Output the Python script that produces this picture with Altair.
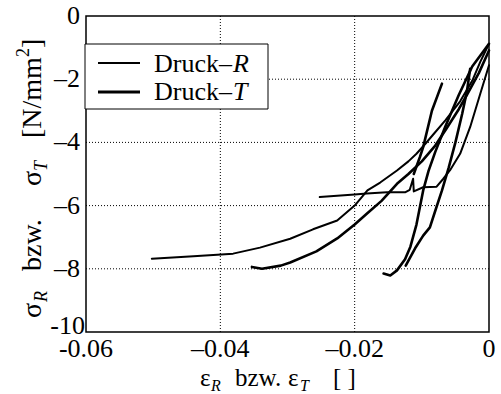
import altair as alt
import pandas as pd

# ---- data ----
a_x = [-0.0502, -0.0440, -0.0381, -0.0341, -0.0296, -0.0262, -0.0226, -0.0200, -0.0190, -0.0181,
       -0.0162, -0.0137, -0.0120, -0.0108, -0.0095, -0.0083, -0.0065, -0.0043, -0.0025, -0.0013, 0.0]
a_y = [-7.68, -7.60, -7.52, -7.33, -7.05, -6.75, -6.47, -6.00, -5.75, -5.52,
       -5.27, -4.89, -4.60, -4.36, -4.05, -3.75, -3.30, -2.70, -2.05, -1.45, -0.88]

c_x = [-0.0252, -0.0200, -0.0182, -0.0152, -0.0125, -0.0118, -0.0113, -0.0112, -0.0098, -0.0078,
       -0.0068, -0.0058, -0.0043, -0.0028, -0.0013, 0.0]
c_y = [-5.73, -5.65, -5.62, -5.58, -5.58, -5.50, -5.15, -5.55, -5.42, -5.40,
       -5.15, -4.88, -4.36, -3.51, -2.46, -1.56]

b_x = [-0.0353, -0.0338, -0.0310, -0.0296, -0.0257, -0.0226, -0.0200, -0.0182, -0.0160, -0.0137,
       -0.0120, -0.0100, -0.0080, -0.0063, -0.0045, -0.0033, -0.0015, 0.0]
b_y = [-7.94, -8.00, -7.90, -7.80, -7.45, -7.04, -6.60, -6.26, -5.85, -5.31,
       -5.00, -4.60, -4.10, -3.55, -2.95, -2.50, -1.80, -1.09]

d_x = [-0.0157, -0.0147, -0.0137, -0.0125, -0.0117, -0.0108, -0.0098, -0.0090, -0.0080, -0.0065,
       -0.0045, -0.0025, 0.0]
d_y = [-8.15, -8.21, -8.05, -7.70, -7.30, -6.60, -5.52, -4.90, -4.30, -3.50,
       -2.50, -1.60, -0.88]

e_x = [-0.0112, -0.0103, -0.0098, -0.0085, -0.0070]
e_y = [-5.00, -4.47, -4.15, -3.00, -2.14]

f_x = [-0.0124, -0.0110, -0.0098, -0.0088, -0.0079, -0.0070, -0.0060, -0.0050, -0.0040, -0.0033, -0.0028]
f_y = [-7.90, -7.35, -6.95, -6.69, -6.10, -5.52, -4.80, -4.00, -3.10, -2.40, -1.67]

series = [("A", "R", a_x, a_y), ("C", "R", c_x, c_y), ("B", "T", b_x, b_y),
          ("D", "T", d_x, d_y), ("E", "T", e_x, e_y), ("F", "T", f_x, f_y)]

# tick values and their printed labels
x_ticks = [-0.06, -0.04, -0.02, 0.0]
x_tick_labels = ["-0.06", "\u20130.04", "\u20130.02", "0"]
y_ticks = [-10, -8, -6, -4, -2, 0]
y_tick_labels = ["-10", "\u20138", "\u20136", "\u20134", "\u20132", "0"]
x_grid = [-0.04, -0.02]
y_grid = [-8, -6, -4, -2]

rows = []
for name, grp, xs, ys in series:
    for i, (xv, yv) in enumerate(zip(xs, ys)):
        rows.append({"x": xv, "y": yv, "series": name, "group": grp, "i": i})
df = pd.DataFrame(rows)

FONT = "Liberation Serif"
XS = alt.Scale(domain=[-0.06, 0], nice=False, zero=False)
YS = alt.Scale(domain=[-10, 0], nice=False, zero=False)

lines = alt.Chart(df).mark_line(color="black", strokeJoin="round", strokeCap="round").encode(
    x=alt.X("x:Q", scale=XS, axis=None),
    y=alt.Y("y:Q", scale=YS, axis=None),
    detail="series:N",
    order="i:Q",
    strokeWidth=alt.StrokeWidth("group:N", scale=alt.Scale(domain=["R", "T"], range=[2.0, 2.6]),
                                legend=None),
)

gx = alt.Chart(pd.DataFrame({"x": x_grid})).mark_rule(
    color="black", strokeDash=[1, 2], strokeWidth=1).encode(x=alt.X("x:Q", scale=XS, axis=None))
gy = alt.Chart(pd.DataFrame({"y": y_grid})).mark_rule(
    color="black", strokeDash=[1, 2], strokeWidth=1).encode(y=alt.Y("y:Q", scale=YS, axis=None))

xlab = alt.Chart(pd.DataFrame({"x": x_ticks, "t": x_tick_labels})).mark_text(
    font=FONT, fontSize=26, align="center", baseline="alphabetic", color="black").encode(
    x=alt.X("x:Q", scale=XS, axis=None), y=alt.value(341), text="t:N")

ydf = pd.DataFrame({"y": y_ticks, "t": y_tick_labels})
ylab = alt.Chart(ydf).transform_filter("datum.y > -10").mark_text(
    font=FONT, fontSize=26, align="right", baseline="middle", color="black", dx=-6).encode(
    y=alt.Y("y:Q", scale=YS, axis=None), x=alt.value(0), text="t:N")
ylab_low = alt.Chart(ydf).transform_filter("datum.y <= -10").mark_text(
    font=FONT, fontSize=26, align="right", baseline="middle", color="black", dx=-1, dy=-6).encode(
    y=alt.Y("y:Q", scale=YS, axis=None), x=alt.value(0), text="t:N")

one = pd.DataFrame({"k": [0]})
base = alt.Chart(one)

legend_box = base.mark_rect(fill="white", stroke="black", strokeWidth=1).encode(
    x=alt.value(-1), x2=alt.value(182), y=alt.value(28), y2=alt.value(93))
leg_r = base.mark_rule(color="black", strokeWidth=1.8).encode(
    x=alt.value(12), x2=alt.value(54), y=alt.value(47))
leg_t = base.mark_rule(color="black", strokeWidth=2.8).encode(
    x=alt.value(12), x2=alt.value(54), y=alt.value(76))


def txt(s, x, y, size=26, italic=False, angle=0):
    kw = dict(text=s, font=FONT, fontSize=size, align="left", baseline="alphabetic", color="black")
    if italic:
        kw["fontStyle"] = "italic"
    if angle:
        kw["angle"] = angle
    return base.mark_text(**kw).encode(x=alt.value(x), y=alt.value(y))


texts = [
    txt("Druck\u2013", 68, 56), txt("R", 147, 56, italic=True),
    txt("Druck\u2013", 68, 84), txt("T", 147, 84, italic=True),
    # x title
    txt("\u03b5", 114, 370, size=25), txt("R", 125, 375, size=16, italic=True),
    txt("bzw.", 149, 370, size=25), txt("\u03b5", 202, 370, size=25),
    txt("T", 214, 375, size=16, italic=True),
    txt("[ ]", 247, 370, size=25),
    # y title (rotated)
    txt("\u03c3", -45, 302, size=28, angle=270), txt("R", -39, 286, size=18, italic=True, angle=270),
    txt("bzw.", -45, 255, size=28, angle=270),
    txt("\u03c3", -45, 170, size=28, angle=270), txt("T", -39, 155, size=18, italic=True, angle=270),
    txt("[N/mm", -45, 122, size=28, angle=270), txt("2", -57, 41, size=18, angle=270),
    txt("]", -45, 32, size=28, angle=270),
]

chart = alt.layer(gx, gy, lines, xlab, ylab, ylab_low, legend_box, leg_r, leg_t, *texts).properties(
    width=403, height=316,
    autosize=alt.AutoSizeParams(type="none"),
    padding={"left": 86, "top": 16, "right": 12, "bottom": 62},
    background="white",
).configure_view(stroke="black", strokeWidth=1.5)

chart.save("out.html", embed_options={"renderer": "svg", "actions": False})
